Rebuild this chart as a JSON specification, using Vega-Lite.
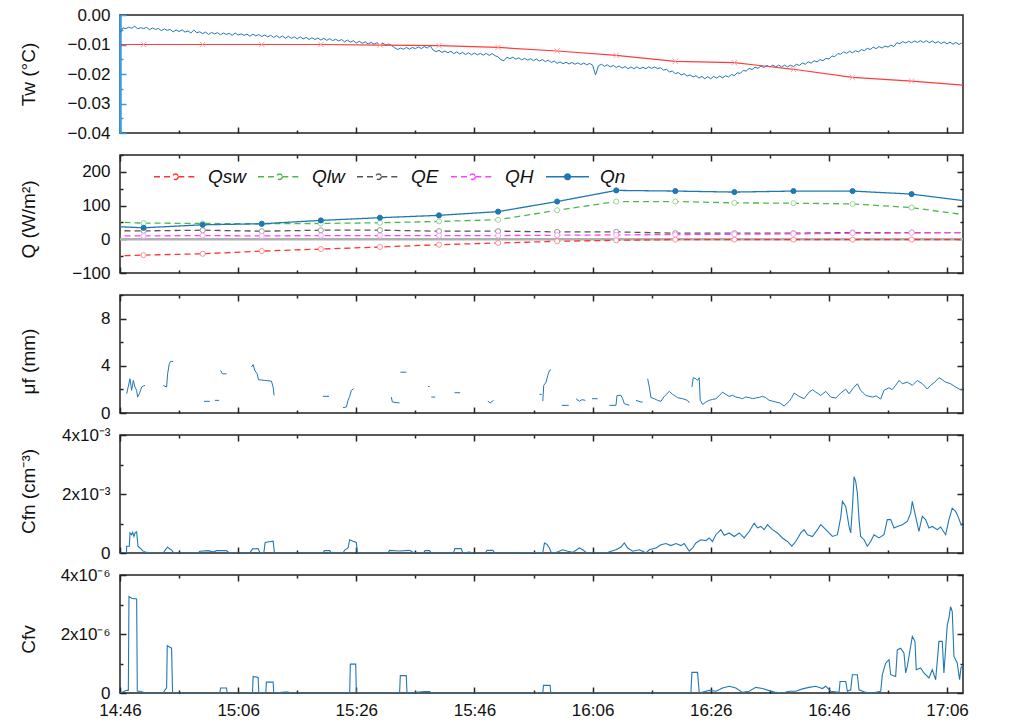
{
"$schema":"https://vega.github.io/schema/vega-lite/v6.json",
"background":"white",
"padding":{"left":18,"top":5,"right":5,"bottom":5},
"bounds":"flush",
"spacing":22,
"resolve":{"scale":{"color":"independent","strokeDash":"independent","stroke":"independent"},"legend":{"color":"independent","strokeDash":"independent"}},
"config":{
 "view":{"stroke":"#222","strokeWidth":1.5},
 "font":"Liberation Sans",
 "axis":{"domain":false,"grid":false,"labelFont":"Liberation Sans","labelFontSize":17,"labelColor":"#111","titleFont":"Liberation Sans","titleFontSize":19,"titleFontWeight":"normal","titleColor":"#111","tickColor":"#222","tickWidth":1.5,"labelOverlap":false,"labelFlush":false}
},
"datasets":{
"tw":[{"t":0,"v":-0.006},{"t":0.5,"v":-0.0044},{"t":1,"v":-0.0046},{"t":1.5,"v":-0.0041},{"t":2,"v":-0.0045},{"t":2.5,"v":-0.0038},{"t":3,"v":-0.0047},{"t":3.5,"v":-0.0043},{"t":4,"v":-0.0046},{"t":4.5,"v":-0.0042},{"t":5,"v":-0.005},{"t":5.5,"v":-0.0044},{"t":6,"v":-0.0049},{"t":6.5,"v":-0.0046},{"t":7,"v":-0.0053},{"t":7.5,"v":-0.0047},{"t":8,"v":-0.0052},{"t":8.5,"v":-0.0049},{"t":9,"v":-0.0057},{"t":9.5,"v":-0.0051},{"t":10,"v":-0.0056},{"t":10.5,"v":-0.005},{"t":11,"v":-0.0058},{"t":11.5,"v":-0.0054},{"t":12,"v":-0.0061},{"t":12.5,"v":-0.0051},{"t":13,"v":-0.006},{"t":13.5,"v":-0.0057},{"t":14,"v":-0.0063},{"t":14.5,"v":-0.0058},{"t":15,"v":-0.0066},{"t":15.5,"v":-0.0059},{"t":16,"v":-0.0064},{"t":16.5,"v":-0.006},{"t":17,"v":-0.0067},{"t":17.5,"v":-0.0061},{"t":18,"v":-0.0066},{"t":18.5,"v":-0.0062},{"t":19,"v":-0.0069},{"t":19.5,"v":-0.0061},{"t":20,"v":-0.0068},{"t":20.5,"v":-0.0064},{"t":21,"v":-0.0069},{"t":21.5,"v":-0.0065},{"t":22,"v":-0.0072},{"t":22.5,"v":-0.0065},{"t":23,"v":-0.0071},{"t":23.5,"v":-0.0066},{"t":24,"v":-0.0073},{"t":24.5,"v":-0.0068},{"t":25,"v":-0.0074},{"t":25.5,"v":-0.0069},{"t":26,"v":-0.0076},{"t":26.5,"v":-0.007},{"t":27,"v":-0.0077},{"t":27.5,"v":-0.0071},{"t":28,"v":-0.0079},{"t":28.5,"v":-0.0072},{"t":29,"v":-0.0079},{"t":29.5,"v":-0.0074},{"t":30,"v":-0.0081},{"t":30.5,"v":-0.0074},{"t":31,"v":-0.0081},{"t":31.5,"v":-0.0076},{"t":32,"v":-0.0083},{"t":32.5,"v":-0.0077},{"t":33,"v":-0.0083},{"t":33.5,"v":-0.0078},{"t":34,"v":-0.0085},{"t":34.5,"v":-0.0079},{"t":35,"v":-0.0086},{"t":35.5,"v":-0.008},{"t":36,"v":-0.0087},{"t":36.5,"v":-0.0082},{"t":37,"v":-0.0088},{"t":37.5,"v":-0.0083},{"t":38,"v":-0.0091},{"t":38.5,"v":-0.0085},{"t":39,"v":-0.0092},{"t":39.5,"v":-0.0087},{"t":40,"v":-0.0095},{"t":40.5,"v":-0.0089},{"t":41,"v":-0.0096},{"t":41.5,"v":-0.0091},{"t":42,"v":-0.0098},{"t":42.5,"v":-0.0093},{"t":43,"v":-0.0099},{"t":43.5,"v":-0.0094},{"t":44,"v":-0.0101},{"t":44.5,"v":-0.0096},{"t":45,"v":-0.0102},{"t":45.5,"v":-0.0098},{"t":46,"v":-0.0104},{"t":46.5,"v":-0.0111},{"t":47,"v":-0.0117},{"t":47.5,"v":-0.0112},{"t":48,"v":-0.0116},{"t":48.5,"v":-0.011},{"t":49,"v":-0.0116},{"t":49.5,"v":-0.011},{"t":50,"v":-0.0114},{"t":50.5,"v":-0.0108},{"t":51,"v":-0.0114},{"t":51.5,"v":-0.0107},{"t":52,"v":-0.0112},{"t":52.5,"v":-0.0104},{"t":53,"v":-0.0119},{"t":53.5,"v":-0.0124},{"t":54,"v":-0.012},{"t":54.5,"v":-0.0127},{"t":55,"v":-0.0122},{"t":55.5,"v":-0.0128},{"t":56,"v":-0.0123},{"t":56.5,"v":-0.0131},{"t":57,"v":-0.0125},{"t":57.5,"v":-0.0132},{"t":58,"v":-0.0127},{"t":58.5,"v":-0.0134},{"t":59,"v":-0.0128},{"t":59.5,"v":-0.0135},{"t":60,"v":-0.0129},{"t":60.5,"v":-0.0135},{"t":61,"v":-0.013},{"t":61.5,"v":-0.0136},{"t":62,"v":-0.013},{"t":62.5,"v":-0.0137},{"t":63,"v":-0.0131},{"t":63.5,"v":-0.0138},{"t":64,"v":-0.0142},{"t":64.5,"v":-0.0152},{"t":65,"v":-0.0155},{"t":65.5,"v":-0.0143},{"t":66,"v":-0.0148},{"t":66.5,"v":-0.0143},{"t":67,"v":-0.015},{"t":67.5,"v":-0.0145},{"t":68,"v":-0.0152},{"t":68.5,"v":-0.0147},{"t":69,"v":-0.0153},{"t":69.5,"v":-0.0148},{"t":70,"v":-0.0155},{"t":70.5,"v":-0.0149},{"t":71,"v":-0.0156},{"t":71.5,"v":-0.0151},{"t":72,"v":-0.0158},{"t":72.5,"v":-0.0153},{"t":73,"v":-0.0161},{"t":73.5,"v":-0.0156},{"t":74,"v":-0.0164},{"t":74.5,"v":-0.0159},{"t":75,"v":-0.0165},{"t":75.5,"v":-0.016},{"t":76,"v":-0.0166},{"t":76.5,"v":-0.0161},{"t":77,"v":-0.0167},{"t":77.5,"v":-0.0162},{"t":78,"v":-0.0168},{"t":78.5,"v":-0.0163},{"t":79,"v":-0.0169},{"t":79.5,"v":-0.0164},{"t":80,"v":-0.017},{"t":80.5,"v":-0.0203},{"t":81,"v":-0.0172},{"t":81.5,"v":-0.0167},{"t":82,"v":-0.0174},{"t":82.5,"v":-0.0169},{"t":83,"v":-0.0176},{"t":83.5,"v":-0.0171},{"t":84,"v":-0.0178},{"t":84.5,"v":-0.0173},{"t":85,"v":-0.018},{"t":85.5,"v":-0.0175},{"t":86,"v":-0.0182},{"t":86.5,"v":-0.0176},{"t":87,"v":-0.0182},{"t":87.5,"v":-0.0176},{"t":88,"v":-0.0182},{"t":88.5,"v":-0.0177},{"t":89,"v":-0.0182},{"t":89.5,"v":-0.0176},{"t":90,"v":-0.0181},{"t":90.5,"v":-0.0176},{"t":91,"v":-0.0182},{"t":91.5,"v":-0.0179},{"t":92,"v":-0.0187},{"t":92.5,"v":-0.0184},{"t":93,"v":-0.0193},{"t":93.5,"v":-0.019},{"t":94,"v":-0.0199},{"t":94.5,"v":-0.0195},{"t":95,"v":-0.0203},{"t":95.5,"v":-0.0199},{"t":96,"v":-0.0207},{"t":96.5,"v":-0.0203},{"t":97,"v":-0.021},{"t":97.5,"v":-0.0206},{"t":98,"v":-0.0214},{"t":98.5,"v":-0.0208},{"t":99,"v":-0.0216},{"t":99.5,"v":-0.0209},{"t":100,"v":-0.0216},{"t":100.5,"v":-0.0208},{"t":101,"v":-0.0214},{"t":101.5,"v":-0.0207},{"t":102,"v":-0.0213},{"t":102.5,"v":-0.0206},{"t":103,"v":-0.021},{"t":103.5,"v":-0.0202},{"t":104,"v":-0.0205},{"t":104.5,"v":-0.0196},{"t":105,"v":-0.0198},{"t":105.5,"v":-0.0188},{"t":106,"v":-0.019},{"t":106.5,"v":-0.0181},{"t":107,"v":-0.0185},{"t":107.5,"v":-0.0177},{"t":108,"v":-0.0181},{"t":108.5,"v":-0.0173},{"t":109,"v":-0.0178},{"t":109.5,"v":-0.0171},{"t":110,"v":-0.0176},{"t":110.5,"v":-0.017},{"t":111,"v":-0.0176},{"t":111.5,"v":-0.017},{"t":112,"v":-0.0176},{"t":112.5,"v":-0.017},{"t":113,"v":-0.0176},{"t":113.5,"v":-0.017},{"t":114,"v":-0.0175},{"t":114.5,"v":-0.0167},{"t":115,"v":-0.0171},{"t":115.5,"v":-0.0163},{"t":116,"v":-0.0167},{"t":116.5,"v":-0.0159},{"t":117,"v":-0.0163},{"t":117.5,"v":-0.0155},{"t":118,"v":-0.0159},{"t":118.5,"v":-0.0151},{"t":119,"v":-0.0155},{"t":119.5,"v":-0.0147},{"t":120,"v":-0.0149},{"t":120.5,"v":-0.0139},{"t":121,"v":-0.0141},{"t":121.5,"v":-0.0131},{"t":122,"v":-0.0133},{"t":122.5,"v":-0.0125},{"t":123,"v":-0.013},{"t":123.5,"v":-0.0123},{"t":124,"v":-0.0128},{"t":124.5,"v":-0.0121},{"t":125,"v":-0.0125},{"t":125.5,"v":-0.0117},{"t":126,"v":-0.0121},{"t":126.5,"v":-0.0113},{"t":127,"v":-0.0117},{"t":127.5,"v":-0.0109},{"t":128,"v":-0.0114},{"t":128.5,"v":-0.0107},{"t":129,"v":-0.0112},{"t":129.5,"v":-0.0105},{"t":130,"v":-0.0109},{"t":130.5,"v":-0.0102},{"t":131,"v":-0.0107},{"t":131.5,"v":-0.0094},{"t":132,"v":-0.0097},{"t":132.5,"v":-0.009},{"t":133,"v":-0.0095},{"t":133.5,"v":-0.0089},{"t":134,"v":-0.0094},{"t":134.5,"v":-0.0088},{"t":135,"v":-0.0093},{"t":135.5,"v":-0.0087},{"t":136,"v":-0.0093},{"t":136.5,"v":-0.0087},{"t":137,"v":-0.0094},{"t":137.5,"v":-0.0088},{"t":138,"v":-0.0095},{"t":138.5,"v":-0.009},{"t":139,"v":-0.0097},{"t":139.5,"v":-0.0091},{"t":140,"v":-0.0098},{"t":140.5,"v":-0.0092},{"t":141,"v":-0.0099},{"t":141.5,"v":-0.0093},{"t":142,"v":-0.01},{"t":142.5,"v":-0.0095}],
"ta":[{"t":-6,"v":-2.5},{"t":4,"v":-2.5},{"t":14,"v":-2.5},{"t":24,"v":-2.5},{"t":34,"v":-2.5},{"t":44,"v":-2.55},{"t":54,"v":-2.6},{"t":64,"v":-2.75},{"t":74,"v":-3.05},{"t":84,"v":-3.42},{"t":94,"v":-3.93},{"t":104,"v":-4.04},{"t":114,"v":-4.6},{"t":124,"v":-5.28},{"t":134,"v":-5.6},{"t":144,"v":-6.0}],
"q":[
{"t":-6,"s":"Qsw","v":-52},{"t":4,"s":"Qsw","v":-47},{"t":14,"s":"Qsw","v":-43},{"t":24,"s":"Qsw","v":-35},{"t":34,"s":"Qsw","v":-29},{"t":44,"s":"Qsw","v":-23},{"t":54,"s":"Qsw","v":-16},{"t":64,"s":"Qsw","v":-11},{"t":74,"s":"Qsw","v":-6},{"t":84,"s":"Qsw","v":-3},{"t":94,"s":"Qsw","v":-1},{"t":104,"s":"Qsw","v":-1},{"t":114,"s":"Qsw","v":-1},{"t":124,"s":"Qsw","v":-1},{"t":134,"s":"Qsw","v":-1},{"t":144,"s":"Qsw","v":-1},
{"t":-6,"s":"Qlw","v":54},{"t":4,"s":"Qlw","v":48},{"t":14,"s":"Qlw","v":47},{"t":24,"s":"Qlw","v":46},{"t":34,"s":"Qlw","v":47},{"t":44,"s":"Qlw","v":49},{"t":54,"s":"Qlw","v":53},{"t":64,"s":"Qlw","v":58},{"t":74,"s":"Qlw","v":86},{"t":84,"s":"Qlw","v":112},{"t":94,"s":"Qlw","v":112},{"t":104,"s":"Qlw","v":108},{"t":114,"s":"Qlw","v":107},{"t":124,"s":"Qlw","v":105},{"t":134,"s":"Qlw","v":94},{"t":144,"s":"Qlw","v":70},
{"t":-6,"s":"QE","v":26},{"t":4,"s":"QE","v":25},{"t":14,"s":"QE","v":27},{"t":24,"s":"QE","v":24},{"t":34,"s":"QE","v":27},{"t":44,"s":"QE","v":27},{"t":54,"s":"QE","v":24},{"t":64,"s":"QE","v":24},{"t":74,"s":"QE","v":22},{"t":84,"s":"QE","v":22},{"t":94,"s":"QE","v":18},{"t":104,"s":"QE","v":18},{"t":114,"s":"QE","v":18},{"t":124,"s":"QE","v":20},{"t":134,"s":"QE","v":20},{"t":144,"s":"QE","v":20},
{"t":-6,"s":"QH","v":10},{"t":4,"s":"QH","v":10},{"t":14,"s":"QH","v":11},{"t":24,"s":"QH","v":10},{"t":34,"s":"QH","v":11},{"t":44,"s":"QH","v":11},{"t":54,"s":"QH","v":11},{"t":64,"s":"QH","v":11},{"t":74,"s":"QH","v":12},{"t":84,"s":"QH","v":13},{"t":94,"s":"QH","v":14},{"t":104,"s":"QH","v":15},{"t":114,"s":"QH","v":16},{"t":124,"s":"QH","v":18},{"t":134,"s":"QH","v":19},{"t":144,"s":"QH","v":20},
{"t":-6,"s":"Qn","v":42},{"t":4,"s":"Qn","v":34},{"t":14,"s":"Qn","v":43},{"t":24,"s":"Qn","v":46},{"t":34,"s":"Qn","v":56},{"t":44,"s":"Qn","v":64},{"t":54,"s":"Qn","v":71},{"t":64,"s":"Qn","v":82},{"t":74,"s":"Qn","v":112},{"t":84,"s":"Qn","v":145},{"t":94,"s":"Qn","v":143},{"t":104,"s":"Qn","v":140},{"t":114,"s":"Qn","v":143},{"t":124,"s":"Qn","v":143},{"t":134,"s":"Qn","v":134},{"t":144,"s":"Qn","v":112}],
"mu":[
{"s":1,"t":1.13,"v":1.63},{"s":1,"t":1.69,"v":2.9},{"s":1,"t":1.97,"v":1.92},{"s":1,"t":2.25,"v":2.76},{"s":1,"t":2.53,"v":2.2},{"s":1,"t":2.82,"v":1.92},{"s":1,"t":2.98,"v":1.35},{"s":1,"t":3.27,"v":1.63},{"s":1,"t":3.49,"v":1.92},{"s":1,"t":3.66,"v":2.2},{"s":1,"t":3.94,"v":2.28},{"s":1,"t":4.22,"v":2.34},
{"s":2,"t":7.32,"v":2.34},{"s":2,"t":7.89,"v":2.2},{"s":2,"t":8.06,"v":3.32},{"s":2,"t":8.34,"v":4.17},{"s":2,"t":8.56,"v":4.37},{"s":2,"t":9.01,"v":4.37},
{"s":3,"t":14.2,"v":0.99},{"s":3,"t":15.2,"v":0.99},
{"s":4,"t":16.06,"v":1.07},{"s":4,"t":16.79,"v":1.07},
{"s":5,"t":17.02,"v":3.6},{"s":5,"t":17.35,"v":3.32},{"s":5,"t":18.03,"v":3.32},
{"s":6,"t":22.26,"v":3.89},{"s":6,"t":22.54,"v":4.11},{"s":6,"t":22.82,"v":3.6},{"s":6,"t":23.22,"v":3.32},{"s":6,"t":23.44,"v":2.82},{"s":6,"t":24.51,"v":2.76},{"s":6,"t":25.64,"v":2.7},{"s":6,"t":25.92,"v":2.2},{"s":6,"t":26.09,"v":1.49},
{"s":7,"t":34.37,"v":1.41},{"s":7,"t":35.39,"v":1.41},
{"s":8,"t":37.75,"v":0.45},{"s":8,"t":38.32,"v":0.51},{"s":8,"t":38.6,"v":1.07},{"s":8,"t":38.88,"v":1.41},{"s":8,"t":39.16,"v":1.92},{"s":8,"t":39.56,"v":2.06},
{"s":9,"t":45.93,"v":1.35},{"s":9,"t":46.1,"v":0.93},{"s":9,"t":47.33,"v":0.85},
{"s":10,"t":47.45,"v":3.46},{"s":10,"t":48.46,"v":3.46},
{"s":11,"t":52.13,"v":2.25},{"s":11,"t":52.41,"v":2.25},
{"s":12,"t":52.69,"v":1.35},{"s":12,"t":53.36,"v":1.35},
{"s":13,"t":56.63,"v":1.72},{"s":13,"t":57.59,"v":1.72},
{"s":14,"t":62.27,"v":1.01},{"s":14,"t":62.66,"v":0.85},{"s":14,"t":63.23,"v":1.07},
{"s":15,"t":71.0,"v":1.58},{"s":15,"t":71.4,"v":1.58},
{"s":16,"t":71.57,"v":1.01},{"s":16,"t":71.73,"v":2.34},{"s":16,"t":72.13,"v":2.62},{"s":16,"t":72.41,"v":3.18},{"s":16,"t":72.69,"v":3.6},{"s":16,"t":72.97,"v":3.66},
{"s":17,"t":74.78,"v":0.65},{"s":17,"t":75.96,"v":0.65},
{"s":18,"t":77.2,"v":1.21},{"s":18,"t":77.76,"v":0.99},{"s":18,"t":78.22,"v":1.13},{"s":18,"t":78.78,"v":1.07},
{"s":19,"t":79.9,"v":1.21},{"s":19,"t":80.86,"v":1.21},
{"s":20,"t":82.84,"v":0.65},{"s":20,"t":83.96,"v":0.65},{"s":20,"t":84.13,"v":1.49},{"s":20,"t":84.81,"v":1.49},{"s":20,"t":85.09,"v":1.21},{"s":20,"t":85.37,"v":0.79},{"s":20,"t":86.22,"v":0.65},
{"s":21,"t":87.34,"v":1.07},{"s":21,"t":88.19,"v":0.93},{"s":21,"t":88.47,"v":0.93},
{"s":22,"t":89.32,"v":2.9},{"s":22,"t":89.6,"v":2.2},{"s":22,"t":89.88,"v":1.3},{"s":22,"t":90.44,"v":1.21},{"s":22,"t":91.01,"v":1.07},{"s":22,"t":91.57,"v":0.99},{"s":22,"t":92.13,"v":1.41},{"s":22,"t":92.98,"v":1.83},{"s":22,"t":93.54,"v":1.58},{"s":22,"t":93.83,"v":1.49},{"s":22,"t":94.39,"v":1.3},{"s":22,"t":95.24,"v":1.21},{"s":22,"t":96.08,"v":1.07},{"s":22,"t":96.36,"v":0.87},
{"s":23,"t":96.81,"v":2.2},{"s":23,"t":97.04,"v":2.99},{"s":23,"t":97.49,"v":2.9},{"s":23,"t":97.77,"v":2.76},{"s":23,"t":98.05,"v":2.99},{"s":23,"t":98.22,"v":1.07},{"s":23,"t":98.62,"v":0.73},{"s":23,"t":99.18,"v":0.93},{"s":23,"t":99.74,"v":1.07},{"s":23,"t":100.3,"v":1.15},{"s":23,"t":100.87,"v":1.21},{"s":23,"t":101.4,"v":1.45},{"s":23,"t":102.0,"v":1.77},{"s":23,"t":102.56,"v":1.58},{"s":23,"t":103.12,"v":1.41},{"s":23,"t":103.7,"v":1.5},{"s":23,"t":104.25,"v":1.35},{"s":23,"t":104.8,"v":1.3},{"s":23,"t":105.38,"v":1.21},{"s":23,"t":105.9,"v":1.36},{"s":23,"t":106.5,"v":1.3},{"s":23,"t":107.1,"v":1.22},{"s":23,"t":107.63,"v":1.27},{"s":23,"t":108.2,"v":1.33},{"s":23,"t":108.76,"v":1.41},{"s":23,"t":109.32,"v":1.3},{"s":23,"t":109.89,"v":1.07},{"s":23,"t":110.5,"v":1.0},{"s":23,"t":111.01,"v":0.93},{"s":23,"t":111.7,"v":0.85},{"s":23,"t":112.42,"v":0.59},{"s":23,"t":113.27,"v":0.99},{"s":23,"t":113.7,"v":1.3},{"s":23,"t":114.11,"v":1.69},{"s":23,"t":114.96,"v":1.41},{"s":23,"t":115.8,"v":1.21},{"s":23,"t":116.65,"v":1.77},{"s":23,"t":117.21,"v":1.97},{"s":23,"t":117.78,"v":1.77},{"s":23,"t":118.62,"v":1.49},{"s":23,"t":119.47,"v":1.83},{"s":23,"t":120.31,"v":1.35},{"s":23,"t":121.16,"v":1.27},{"s":23,"t":122.0,"v":1.69},{"s":23,"t":122.85,"v":2.03},{"s":23,"t":123.41,"v":1.63},{"s":23,"t":124.1,"v":2.1},{"s":23,"t":124.82,"v":2.48},{"s":23,"t":125.38,"v":1.92},{"s":23,"t":126.23,"v":1.49},{"s":23,"t":127.36,"v":1.35},{"s":23,"t":128.0,"v":1.45},{"s":23,"t":128.77,"v":1.18},{"s":23,"t":129.33,"v":1.92},{"s":23,"t":130.17,"v":2.14},{"s":23,"t":130.7,"v":1.98},{"s":23,"t":131.3,"v":2.34},{"s":23,"t":131.87,"v":2.76},{"s":23,"t":132.43,"v":2.48},{"s":23,"t":133.27,"v":2.62},{"s":23,"t":134.12,"v":2.34},{"s":23,"t":134.96,"v":2.76},{"s":23,"t":135.81,"v":2.48},{"s":23,"t":136.66,"v":2.03},{"s":23,"t":137.22,"v":2.34},{"s":23,"t":137.9,"v":2.6},{"s":23,"t":138.63,"v":2.99},{"s":23,"t":139.19,"v":2.82},{"s":23,"t":139.76,"v":2.62},{"s":23,"t":140.6,"v":2.48},{"s":23,"t":141.45,"v":2.2},{"s":23,"t":142.29,"v":1.97},{"s":23,"t":142.69,"v":2.03}],
"cfn":[{"t":0,"v":0},{"t":1.1,"v":0},{"t":1.13,"v":2.3e-4},{"t":1.58,"v":2.3e-4},{"t":1.69,"v":6.8e-4},{"t":1.97,"v":6.2e-4},{"t":2.14,"v":7.0e-4},{"t":2.36,"v":5.6e-4},{"t":2.59,"v":7.0e-4},{"t":2.82,"v":7.2e-4},{"t":3.04,"v":2.3e-4},{"t":3.38,"v":1.7e-4},{"t":3.83,"v":8e-5},{"t":4.39,"v":2e-5},{"t":5.63,"v":0},{"t":7.32,"v":0},{"t":7.72,"v":1.2e-4},{"t":8.06,"v":2.0e-4},{"t":8.34,"v":1.5e-4},{"t":8.73,"v":1.0e-4},{"t":9.01,"v":2e-5},{"t":9.58,"v":0},{"t":13.24,"v":0},{"t":13.52,"v":6e-5},{"t":14.93,"v":8e-5},{"t":15.78,"v":3e-5},{"t":16.34,"v":8e-5},{"t":18.03,"v":8e-5},{"t":18.48,"v":0},{"t":21.97,"v":0},{"t":22.43,"v":1.4e-4},{"t":23.38,"v":1.5e-4},{"t":23.67,"v":2e-5},{"t":24.34,"v":0},{"t":24.57,"v":3.6e-4},{"t":25.24,"v":3.8e-4},{"t":25.92,"v":4.0e-4},{"t":26.15,"v":0},{"t":34.37,"v":0},{"t":34.6,"v":8e-5},{"t":35.5,"v":8e-5},{"t":35.78,"v":0},{"t":37.75,"v":0},{"t":38.04,"v":1.0e-4},{"t":38.6,"v":1.7e-4},{"t":38.88,"v":4.5e-4},{"t":39.44,"v":4.0e-4},{"t":40.0,"v":3.6e-4},{"t":40.18,"v":0},{"t":45.36,"v":0},{"t":45.64,"v":9e-5},{"t":47.33,"v":7e-5},{"t":49.02,"v":9e-5},{"t":49.59,"v":2e-5},{"t":50.15,"v":0},{"t":51.39,"v":0},{"t":51.62,"v":8e-5},{"t":52.41,"v":8e-5},{"t":52.69,"v":0},{"t":56.46,"v":0},{"t":56.69,"v":1.5e-4},{"t":57.76,"v":1.5e-4},{"t":58.04,"v":0},{"t":59.17,"v":3e-5},{"t":59.73,"v":0},{"t":61.87,"v":0},{"t":62.1,"v":9e-5},{"t":63.12,"v":9e-5},{"t":63.45,"v":0},{"t":65.93,"v":0},{"t":69.31,"v":1e-5},{"t":71.57,"v":2e-5},{"t":71.85,"v":3.4e-4},{"t":72.24,"v":3.0e-4},{"t":72.69,"v":1.7e-4},{"t":73.03,"v":0},{"t":73.82,"v":2e-5},{"t":74.95,"v":1.1e-4},{"t":75.79,"v":6e-5},{"t":76.64,"v":2e-5},{"t":77.76,"v":1.7e-4},{"t":78.33,"v":1.1e-4},{"t":79.0,"v":0},{"t":82.27,"v":0},{"t":83.12,"v":6e-5},{"t":83.96,"v":1.1e-4},{"t":84.81,"v":2.0e-4},{"t":85.37,"v":3.4e-4},{"t":85.94,"v":1.7e-4},{"t":86.78,"v":6e-5},{"t":87.91,"v":1.1e-4},{"t":88.47,"v":6e-5},{"t":89.04,"v":0},{"t":89.6,"v":1.1e-4},{"t":90.73,"v":1.7e-4},{"t":91.57,"v":2.8e-4},{"t":92.42,"v":3.2e-4},{"t":93.26,"v":2.5e-4},{"t":94.11,"v":3.2e-4},{"t":94.95,"v":2.5e-4},{"t":95.52,"v":3.2e-4},{"t":96.36,"v":6e-5},{"t":96.93,"v":1.7e-4},{"t":97.49,"v":3.4e-4},{"t":98.33,"v":4.5e-4},{"t":99.18,"v":4.2e-4},{"t":99.74,"v":5.1e-4},{"t":100.3,"v":3.9e-4},{"t":100.87,"v":6.2e-4},{"t":101.71,"v":7.9e-4},{"t":102.28,"v":6.0e-4},{"t":103.12,"v":6.8e-4},{"t":103.97,"v":5.6e-4},{"t":104.81,"v":6.8e-4},{"t":105.66,"v":5.1e-4},{"t":106.5,"v":7.3e-4},{"t":107.35,"v":1.01e-3},{"t":107.91,"v":8.5e-4},{"t":108.48,"v":9.0e-4},{"t":109.04,"v":7.9e-4},{"t":109.6,"v":9.6e-4},{"t":110.45,"v":7.9e-4},{"t":111.29,"v":6.8e-4},{"t":112.14,"v":5.1e-4},{"t":112.98,"v":3.9e-4},{"t":113.72,"v":2.3e-4},{"t":114.39,"v":3.9e-4},{"t":115.24,"v":6.8e-4},{"t":115.8,"v":7.9e-4},{"t":116.37,"v":6.2e-4},{"t":117.21,"v":5.6e-4},{"t":118.06,"v":7.9e-4},{"t":118.62,"v":9.6e-4},{"t":119.19,"v":8.5e-4},{"t":120.03,"v":6.8e-4},{"t":120.6,"v":5.6e-4},{"t":121.44,"v":6.2e-4},{"t":122.0,"v":1.2e-3},{"t":122.29,"v":1.75e-3},{"t":122.85,"v":1.58e-3},{"t":123.41,"v":9.0e-4},{"t":123.69,"v":6.8e-4},{"t":124.0,"v":1.6e-3},{"t":124.26,"v":2.59e-3},{"t":124.54,"v":2.42e-3},{"t":124.82,"v":2.03e-3},{"t":125.1,"v":1.13e-3},{"t":125.38,"v":5.6e-4},{"t":125.95,"v":4.5e-4},{"t":126.51,"v":2.3e-4},{"t":127.07,"v":3.9e-4},{"t":127.64,"v":6.2e-4},{"t":128.48,"v":5.1e-4},{"t":129.33,"v":6.2e-4},{"t":129.89,"v":1.13e-3},{"t":130.46,"v":1.13e-3},{"t":131.02,"v":8.5e-4},{"t":131.58,"v":9.0e-4},{"t":132.43,"v":9.6e-4},{"t":133.27,"v":1.07e-3},{"t":133.84,"v":1.35e-3},{"t":134.12,"v":1.75e-3},{"t":134.68,"v":1.24e-3},{"t":135.24,"v":7.3e-4},{"t":135.81,"v":1.24e-3},{"t":136.37,"v":1.13e-3},{"t":136.94,"v":8.5e-4},{"t":137.5,"v":9.0e-4},{"t":138.35,"v":7.9e-4},{"t":138.91,"v":8.8e-4},{"t":139.76,"v":6.2e-4},{"t":140.32,"v":1.13e-3},{"t":140.88,"v":1.52e-3},{"t":141.45,"v":1.41e-3},{"t":141.73,"v":1.3e-3},{"t":142.29,"v":1.01e-3},{"t":142.69,"v":9.0e-4}],
"cfv":[{"t":0,"v":0},{"t":1.13,"v":9e-8},{"t":1.41,"v":9e-8},{"t":1.52,"v":3.27e-6},{"t":1.97,"v":3.21e-6},{"t":2.82,"v":3.19e-6},{"t":2.93,"v":6e-8},{"t":3.49,"v":6e-8},{"t":4.22,"v":0},{"t":7.32,"v":0},{"t":7.6,"v":1.0e-7},{"t":7.89,"v":1.7e-7},{"t":8.0,"v":1.6e-6},{"t":8.45,"v":1.55e-6},{"t":8.73,"v":1.52e-6},{"t":8.9,"v":0},{"t":16.9,"v":0},{"t":17.02,"v":1.7e-7},{"t":18.03,"v":1.7e-7},{"t":18.14,"v":0},{"t":22.43,"v":0},{"t":22.54,"v":5.6e-7},{"t":23.38,"v":5.3e-7},{"t":23.5,"v":0},{"t":24.68,"v":0},{"t":24.79,"v":3.7e-7},{"t":25.92,"v":3.7e-7},{"t":26.03,"v":0},{"t":27.89,"v":3e-8},{"t":28.46,"v":3e-8},{"t":28.74,"v":0},{"t":38.88,"v":0},{"t":38.99,"v":9.8e-7},{"t":39.9,"v":9.8e-7},{"t":40.01,"v":0},{"t":47.33,"v":0},{"t":47.45,"v":5.9e-7},{"t":48.46,"v":5.9e-7},{"t":48.58,"v":0},{"t":51.56,"v":5e-8},{"t":52.41,"v":5e-8},{"t":52.69,"v":0},{"t":71.57,"v":0},{"t":71.68,"v":2.6e-7},{"t":72.81,"v":2.6e-7},{"t":72.92,"v":0},{"t":96.64,"v":0},{"t":96.81,"v":7.0e-7},{"t":97.77,"v":7.0e-7},{"t":98.05,"v":0},{"t":99.74,"v":9e-8},{"t":100.87,"v":6e-8},{"t":102.0,"v":1.7e-7},{"t":103.12,"v":2.3e-7},{"t":104.25,"v":1.7e-7},{"t":105.38,"v":2e-8},{"t":106.5,"v":6e-8},{"t":107.63,"v":1.9e-7},{"t":108.76,"v":1.5e-7},{"t":109.89,"v":8e-8},{"t":111.01,"v":2e-8},{"t":112.14,"v":0},{"t":113.27,"v":6e-8},{"t":114.39,"v":6e-8},{"t":115.52,"v":1.4e-7},{"t":116.65,"v":1.9e-7},{"t":117.78,"v":2.3e-7},{"t":118.9,"v":1.5e-7},{"t":119.47,"v":2.3e-7},{"t":120.31,"v":6e-8},{"t":121.72,"v":2e-8},{"t":121.89,"v":3.9e-7},{"t":122.85,"v":3.9e-7},{"t":123.13,"v":6e-8},{"t":123.69,"v":1.1e-7},{"t":123.97,"v":6.2e-7},{"t":124.82,"v":6.2e-7},{"t":125.1,"v":1.1e-7},{"t":126.23,"v":2e-8},{"t":127.36,"v":0},{"t":128.77,"v":6e-8},{"t":129.05,"v":6.2e-7},{"t":129.61,"v":1.01e-6},{"t":130.17,"v":1.13e-6},{"t":130.46,"v":6.2e-7},{"t":131.3,"v":5.6e-7},{"t":131.58,"v":1.46e-6},{"t":132.15,"v":1.52e-6},{"t":132.71,"v":1.35e-6},{"t":133.0,"v":6.8e-7},{"t":133.27,"v":9.0e-7},{"t":133.84,"v":1.58e-6},{"t":134.12,"v":1.92e-6},{"t":134.57,"v":1.75e-6},{"t":134.79,"v":7.9e-7},{"t":135.53,"v":8.5e-7},{"t":136.09,"v":6.8e-7},{"t":136.94,"v":5.1e-7},{"t":137.5,"v":7.9e-7},{"t":138.07,"v":4.5e-7},{"t":138.63,"v":1.75e-6},{"t":139.19,"v":1.75e-6},{"t":139.47,"v":6.8e-7},{"t":140.04,"v":2.31e-6},{"t":140.32,"v":2.54e-6},{"t":140.6,"v":2.93e-6},{"t":140.88,"v":2.76e-6},{"t":141.17,"v":1.24e-6},{"t":141.45,"v":1.13e-6},{"t":141.73,"v":1.01e-6},{"t":142.12,"v":4.5e-7},{"t":142.35,"v":8.5e-7},{"t":142.69,"v":9.6e-7}]
},
"vconcat":[
{
 "width":843,"height":118,
 "layer":[
  {"data":{"name":"tw"},
   "mark":{"type":"line","color":"#2178b5","strokeWidth":1,"clip":true},
   "encoding":{
    "x":{"field":"t","type":"quantitative","scale":{"domain":[0,142.7],"nice":false,"zero":false},"axis":{"orient":"bottom","values":[0,10,20,30,40,50,60,70,80,90,100,110,120,130,140],"labels":false,"title":null,"tickSize":{"condition":{"test":"datum.value % 20 == 0","value":-6},"value":-3}}},
    "y":{"field":"v","type":"quantitative","scale":{"domain":[-0.04,0],"nice":false,"zero":false},"axis":{"orient":"left","values":[-0.04,-0.035,-0.03,-0.025,-0.02,-0.015,-0.01,-0.005,0],"labelExpr":"abs(round(datum.value*200)) % 2 == 0 ? format(datum.value, '.2f') : ''","tickSize":{"condition":{"test":"abs(round(datum.value*200)) % 2 == 0","value":-6},"value":-3},"domain":true,"domainColor":"#3d9be0","domainWidth":2.5,"tickColor":"#3d9be0","labelPadding":16,"title":"Tw (°C)","titleX":-92,"titleY":59,"titleAngle":-90,"titleBaseline":"middle","titleAlign":"center"}}
   }},
  {"data":{"name":"ta"},
   "layer":[
    {"mark":{"type":"line","color":"#ff3b3b","strokeWidth":1.2,"clip":true},
     "encoding":{
      "x":{"field":"t","type":"quantitative","scale":{"domain":[0,142.7],"nice":false,"zero":false},"axis":{"orient":"top","values":[0,10,20,30,40,50,60,70,80,90,100,110,120,130,140],"labels":false,"title":null,"tickSize":{"condition":{"test":"datum.value % 20 == 0","value":-6},"value":-3}}},
      "y":{"field":"v","type":"quantitative","scale":{"domain":[-10,0],"nice":false,"zero":false},"axis":{"orient":"right","values":[-10,-9,-8,-7,-6,-5,-4,-3,-2,-1,0],"labelExpr":"datum.value % 3 == 0 ? format(datum.value, 'd') : ''","tickSize":{"condition":{"test":"datum.value % 3 == 0","value":-5},"value":-3},"domain":true,"domainColor":"#ff3b3b","domainWidth":2.5,"tickColor":"#ff3b3b","labelPadding":17,"labelAlign":"left","title":"Ta (°C)","titleX":49,"titleY":59,"titleAngle":-90,"titleBaseline":"middle","titleAlign":"center"}}
     }},
    {"mark":{"type":"point","shape":"M-1,-1L1,1M-1,1L1,-1","filled":false,"color":"#ffa0a0","size":30,"strokeWidth":1,"opacity":1,"clip":true},
     "encoding":{
      "x":{"field":"t","type":"quantitative","scale":{"domain":[0,142.7],"nice":false,"zero":false},"axis":null},
      "y":{"field":"v","type":"quantitative","axis":null}
     }}
   ]}
 ],
 "resolve":{"scale":{"y":"independent"},"axis":{"x":"independent","y":"independent"}}
},
{
 "width":843,"height":118,
 "layer":[
  {"data":{"values":[{}]},
   "mark":{"type":"rule","color":"#b0b0b0","strokeWidth":2.5},
   "encoding":{"y":{"datum":0,"type":"quantitative","scale":{"domain":[-100,250],"nice":false,"zero":false},"axis":null}}},
  {"data":{"name":"q"},
   "mark":{"type":"line","strokeWidth":1.3,"clip":true},
   "encoding":{
    "x":{"field":"t","type":"quantitative","scale":{"domain":[0,142.7],"nice":false,"zero":false},"axis":{"orient":"bottom","values":[0,10,20,30,40,50,60,70,80,90,100,110,120,130,140],"labels":false,"title":null,"tickSize":{"condition":{"test":"datum.value % 20 == 0","value":-6},"value":-3}}},
    "y":{"field":"v","type":"quantitative","scale":{"domain":[-100,250],"nice":false,"zero":false},"axis":{"orient":"left","values":[-100,-50,0,50,100,150,200,250],"labelExpr":"datum.value % 100 == 0 ? format(datum.value, 'd') : ''","tickSize":{"condition":{"test":"datum.value % 100 == 0","value":-6},"value":-3},"labelPadding":16,"title":"Q (W/m²)","titleX":-92,"titleY":64,"titleAngle":-90,"titleBaseline":"middle","titleAlign":"center"}},
    "color":{"field":"s","type":"nominal","scale":{"domain":["Qsw","Qlw","QE","QH","Qn"],"range":["#ff3333","#4cb84c","#555555","#ff40ff","#1f77b4"]},
      "legend":{"orient":"none","legendX":33,"legendY":-1,"direction":"horizontal","columns":5,"title":null,"padding":0,"symbolType":"M-1,0L-0.13,0M0.13,0L1,0M0.13,0A0.13,0.13,0,1,1,-0.13,0A0.13,0.13,0,1,1,0.13,0","symbolSize":1849,"symbolStrokeWidth":1.5,"labelFont":"Liberation Sans","labelFontSize":19,"labelFontStyle":"italic","labelColor":"#111","labelOffset":10,"columnPadding":9,"encode":{"symbols":{"update":{"fill":{"signal":"datum.value === 'Qn' ? '#1f77b4' : '#ffffff'"}}}}}},
    "strokeDash":{"field":"s","type":"nominal","scale":{"domain":["Qsw","Qlw","QE","QH","Qn"],"range":[[6,4],[6,4],[6,4],[6,4],[1,0]]},
      "legend":{"orient":"none","legendX":33,"legendY":-1,"direction":"horizontal","columns":5,"title":null,"padding":0,"symbolType":"M-1,0L-0.13,0M0.13,0L1,0M0.13,0A0.13,0.13,0,1,1,-0.13,0A0.13,0.13,0,1,1,0.13,0","symbolSize":1849,"symbolStrokeWidth":1.5,"labelFont":"Liberation Sans","labelFontSize":19,"labelFontStyle":"italic","labelColor":"#111","labelOffset":10,"columnPadding":9,"encode":{"symbols":{"update":{"fill":{"signal":"datum.value === 'Qn' ? '#1f77b4' : '#ffffff'"}}}}}}
   }},
  {"data":{"name":"q"},
   "mark":{"type":"point","shape":"circle","filled":true,"size":26,"strokeWidth":1,"opacity":1,"clip":true},
   "encoding":{
    "x":{"field":"t","type":"quantitative","scale":{"domain":[0,142.7],"nice":false,"zero":false},"axis":null},
    "y":{"field":"v","type":"quantitative","scale":{"domain":[-100,250],"nice":false,"zero":false},"axis":null},
    "stroke":{"field":"s","type":"nominal","scale":{"domain":["Qsw","Qlw","QE","QH","Qn"],"range":["#ff9090","#99d699","#999999","#ff99ff","#1f77b4"]},"legend":null},
    "fill":{"condition":{"test":"datum.s === 'Qn'","value":"#1f77b4"},"value":"#ffffff"}
   }},
  {"data":{"values":[{}]},
   "mark":{"type":"point","opacity":0},
   "encoding":{
    "x":{"datum":0,"type":"quantitative","scale":{"domain":[0,142.7],"nice":false,"zero":false},"axis":{"orient":"top","values":[0,10,20,30,40,50,60,70,80,90,100,110,120,130,140],"labels":false,"title":null,"tickSize":{"condition":{"test":"datum.value % 20 == 0","value":-6},"value":-3}}},
    "y":{"datum":0,"type":"quantitative","scale":{"domain":[-100,250],"nice":false,"zero":false},"axis":{"orient":"right","values":[-100,-50,0,50,100,150,200,250],"labels":false,"title":null,"tickSize":{"condition":{"test":"datum.value % 100 == 0","value":-6},"value":-3}}}
   }}
 ],
 "resolve":{"axis":{"x":"independent","y":"independent"}}
},
{
 "width":843,"height":118,
 "layer":[
  {"data":{"name":"mu"},
   "mark":{"type":"line","color":"#2178b5","strokeWidth":1,"clip":true},
   "encoding":{
    "detail":{"field":"s","type":"nominal"},
    "x":{"field":"t","type":"quantitative","scale":{"domain":[0,142.7],"nice":false,"zero":false},"axis":{"orient":"bottom","values":[0,10,20,30,40,50,60,70,80,90,100,110,120,130,140],"labels":false,"title":null,"tickSize":{"condition":{"test":"datum.value % 20 == 0","value":-6},"value":-3}}},
    "y":{"field":"v","type":"quantitative","scale":{"domain":[0,10],"nice":false,"zero":false},"axis":{"orient":"left","values":[0,2,4,6,8,10],"labelExpr":"datum.value % 4 == 0 ? format(datum.value, 'd') : ''","tickSize":{"condition":{"test":"datum.value % 4 == 0","value":-6},"value":-3},"labelPadding":16,"title":"μf (mm)","titleX":-92,"titleY":66,"titleAngle":-90,"titleBaseline":"middle","titleAlign":"center"}}
   }},
  {"data":{"values":[{}]},
   "mark":{"type":"point","opacity":0},
   "encoding":{
    "x":{"datum":0,"type":"quantitative","scale":{"domain":[0,142.7],"nice":false,"zero":false},"axis":{"orient":"top","values":[0,10,20,30,40,50,60,70,80,90,100,110,120,130,140],"labels":false,"title":null,"tickSize":{"condition":{"test":"datum.value % 20 == 0","value":-6},"value":-3}}},
    "y":{"datum":0,"type":"quantitative","scale":{"domain":[0,10],"nice":false,"zero":false},"axis":{"orient":"right","values":[0,2,4,6,8,10],"labels":false,"title":null,"tickSize":{"condition":{"test":"datum.value % 4 == 0","value":-6},"value":-3}}}
   }}
 ],
 "resolve":{"axis":{"x":"independent","y":"independent"}}
},
{
 "width":843,"height":118,
 "layer":[
  {"data":{"name":"cfn"},
   "mark":{"type":"line","color":"#2178b5","strokeWidth":1.1,"clip":true},
   "encoding":{
    "x":{"field":"t","type":"quantitative","scale":{"domain":[0,142.7],"nice":false,"zero":false},"axis":{"orient":"bottom","values":[0,10,20,30,40,50,60,70,80,90,100,110,120,130,140],"labels":false,"title":null,"tickSize":{"condition":{"test":"datum.value % 20 == 0","value":-6},"value":-3}}},
    "y":{"field":"v","type":"quantitative","scale":{"domain":[0,0.004],"nice":false,"zero":false},"axis":{"orient":"left","values":[0,0.001,0.002,0.003,0.004],"labelExpr":"round(datum.value*1000) == 0 ? '0' : (round(datum.value*1000) % 2 == 0 ? round(datum.value*1000) + 'x10⁻³' : '')","tickSize":{"condition":{"test":"round(datum.value*1000) % 2 == 0","value":-6},"value":-3},"labelPadding":16,"title":"Cfn (cm⁻³)","titleX":-92,"titleY":56,"titleAngle":-90,"titleBaseline":"middle","titleAlign":"center"}}
   }},
  {"data":{"values":[{}]},
   "mark":{"type":"point","opacity":0},
   "encoding":{
    "x":{"datum":0,"type":"quantitative","scale":{"domain":[0,142.7],"nice":false,"zero":false},"axis":{"orient":"top","values":[0,10,20,30,40,50,60,70,80,90,100,110,120,130,140],"labels":false,"title":null,"tickSize":{"condition":{"test":"datum.value % 20 == 0","value":-6},"value":-3}}},
    "y":{"datum":0,"type":"quantitative","scale":{"domain":[0,0.004],"nice":false,"zero":false},"axis":{"orient":"right","values":[0,0.001,0.002,0.003,0.004],"labels":false,"title":null,"tickSize":{"condition":{"test":"round(datum.value*1000) % 2 == 0","value":-6},"value":-3}}}
   }}
 ],
 "resolve":{"axis":{"x":"independent","y":"independent"}}
},
{
 "width":843,"height":118,
 "layer":[
  {"data":{"name":"cfv"},
   "mark":{"type":"line","color":"#2178b5","strokeWidth":1.1,"clip":true},
   "encoding":{
    "x":{"field":"t","type":"quantitative","scale":{"domain":[0,142.7],"nice":false,"zero":false},"axis":{"orient":"bottom","values":[0,10,20,30,40,50,60,70,80,90,100,110,120,130,140],"labelExpr":"datum.value % 20 == 0 ? timeFormat(datetime(2000,0,1,14,46+datum.value), '%H:%M') : ''","labelPadding":15,"title":null,"tickSize":{"condition":{"test":"datum.value % 20 == 0","value":-6},"value":-3}}},
    "y":{"field":"v","type":"quantitative","scale":{"domain":[0,0.000004],"nice":false,"zero":false},"axis":{"orient":"left","values":[0,1e-6,2e-6,3e-6,4e-6],"labelExpr":"round(datum.value*1e6) == 0 ? '0' : (round(datum.value*1e6) % 2 == 0 ? round(datum.value*1e6) + 'x10⁻⁶' : '')","tickSize":{"condition":{"test":"round(datum.value*1e6) % 2 == 0","value":-6},"value":-3},"labelPadding":16,"title":"Cfv","titleX":-92,"titleY":64,"titleAngle":-90,"titleBaseline":"middle","titleAlign":"center"}}
   }},
  {"data":{"values":[{}]},
   "mark":{"type":"point","opacity":0},
   "encoding":{
    "x":{"datum":0,"type":"quantitative","scale":{"domain":[0,142.7],"nice":false,"zero":false},"axis":{"orient":"top","values":[0,10,20,30,40,50,60,70,80,90,100,110,120,130,140],"labels":false,"title":null,"tickSize":{"condition":{"test":"datum.value % 20 == 0","value":-6},"value":-3}}},
    "y":{"datum":0,"type":"quantitative","scale":{"domain":[0,0.000004],"nice":false,"zero":false},"axis":{"orient":"right","values":[0,1e-6,2e-6,3e-6,4e-6],"labels":false,"title":null,"tickSize":{"condition":{"test":"round(datum.value*1e6) % 2 == 0","value":-6},"value":-3}}}
   }}
 ],
 "resolve":{"axis":{"x":"independent","y":"independent"}}
}
]
}
